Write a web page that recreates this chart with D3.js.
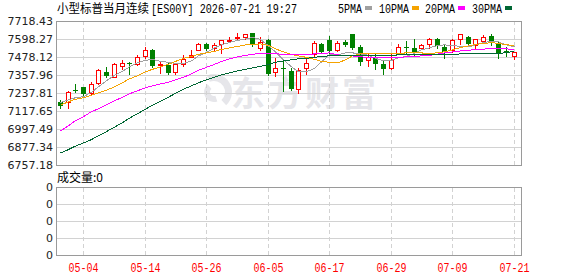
<!DOCTYPE html>
<html>
<head>
<meta charset="utf-8">
<script src="https://cdn.jsdelivr.net/npm/d3@7"></script>
<style>
  html, body { margin: 0; padding: 0; background: #fff; }
  svg { display: block; }
</style>
</head>
<body>
<div id="chart"></div>
<script>
const dates = [
  '04-29', '04-30', '05-01', '05-04', '05-05', '05-06', '05-07', '05-08', '05-11', '05-12',
  '05-13', '05-14', '05-15', '05-18', '05-19', '05-20', '05-21', '05-22', '05-25', '05-26',
  '05-27', '05-28', '05-29', '06-01', '06-02', '06-03', '06-04', '06-05', '06-08', '06-09',
  '06-10', '06-11', '06-12', '06-15', '06-16', '06-17', '06-18', '06-19', '06-22', '06-23',
  '06-24', '06-25', '06-26', '06-29', '06-30', '07-01', '07-02', '07-03', '07-06', '07-07',
  '07-08', '07-09', '07-10', '07-13', '07-14', '07-15', '07-16', '07-17', '07-20', '07-21'
];

const open = [
  7176.3, 7176.3, 7256.1, 7276.1, 7239.5, 7302.7, 7379.2, 7342.6, 7415.8, 7441.0,
  7430.4, 7484.2, 7527.5, 7423.7, 7423.7, 7381.2, 7430.4, 7479.0, 7527.5, 7567.4,
  7537.2, 7563.4, 7583.4, 7603.4, 7614.0, 7636.6, 7540.8, 7592.0, 7381.2, 7407.8,
  7385.8, 7264.1, 7403.8, 7496.9, 7563.4, 7590.0, 7523.5, 7578.7, 7630.0, 7545.5,
  7457.0, 7479.0, 7434.4, 7407.8, 7500.9, 7547.7, 7537.2, 7540.8, 7567.4, 7596.7,
  7545.5, 7523.5, 7596.7, 7612.0, 7558.8, 7585.4, 7618.7, 7574.1, 7515.5, 7485.6
];
const close = [
  7149.7, 7246.1, 7252.8, 7232.8, 7299.4, 7389.2, 7352.6, 7429.1, 7439.0, 7430.4,
  7479.0, 7523.5, 7419.1, 7430.4, 7370.5, 7430.4, 7467.6, 7490.3, 7567.4, 7534.5,
  7560.8, 7590.0, 7590.0, 7614.0, 7630.0, 7558.8, 7580.7, 7363.9, 7403.8, 7401.1,
  7264.1, 7392.5, 7437.0, 7570.1, 7514.2, 7518.9, 7574.1, 7558.8, 7540.8, 7447.7,
  7479.0, 7434.4, 7397.1, 7459.0, 7545.5, 7537.2, 7514.2, 7558.8, 7596.7, 7552.2,
  7514.2, 7590.0, 7630.0, 7567.4, 7596.7, 7612.0, 7580.7, 7496.9, 7513.5, 7514.2
];
const high = [
  7192.9, 7252.8, 7296.0, 7279.4, 7308.0, 7397.1, 7412.5, 7437.0, 7459.0, 7445.7,
  7490.3, 7547.7, 7532.2, 7452.4, 7441.0, 7441.0, 7490.3, 7523.5, 7572.1, 7572.1,
  7572.1, 7592.0, 7614.0, 7636.6, 7634.0, 7638.6, 7612.0, 7595.4, 7474.3, 7459.0,
  7403.8, 7407.8, 7463.7, 7585.4, 7570.1, 7618.7, 7585.4, 7590.0, 7630.0, 7558.8,
  7496.9, 7496.9, 7452.4, 7496.9, 7567.4, 7585.4, 7596.7, 7567.4, 7607.3, 7607.3,
  7563.4, 7596.7, 7634.0, 7620.6, 7596.7, 7625.3, 7630.0, 7580.7, 7545.5, 7514.2
];
const low = [
  7139.7, 7139.7, 7246.1, 7226.2, 7230.8, 7297.4, 7345.9, 7341.3, 7397.1, 7367.9,
  7423.7, 7474.3, 7414.5, 7370.5, 7363.9, 7363.9, 7419.1, 7479.0, 7523.5, 7523.5,
  7527.5, 7507.6, 7580.7, 7592.0, 7596.7, 7554.1, 7525.5, 7359.2, 7352.6, 7252.8,
  7259.4, 7234.8, 7367.9, 7485.6, 7507.6, 7496.9, 7518.9, 7550.1, 7530.2, 7423.7,
  7419.1, 7397.1, 7363.9, 7401.1, 7496.9, 7496.9, 7485.6, 7530.2, 7540.8, 7540.8,
  7474.3, 7514.2, 7563.4, 7558.8, 7530.2, 7574.1, 7558.8, 7474.3, 7485.6, 7463.7
];

const ma5 = [
  7173.0, 7192.9, 7206.2, 7212.9, 7242.8, 7279.4, 7319.3, 7355.9, 7382.5, 7412.5,
  7439.0, 7455.7, 7462.3, 7449.0, 7442.4, 7435.7, 7435.7, 7452.4, 7485.6, 7508.9,
  7538.8, 7558.8, 7575.4, 7588.7, 7598.7, 7608.7, 7595.4, 7552.2, 7512.2, 7459.0,
  7412.5, 7379.2, 7379.2, 7402.5, 7445.7, 7492.4, 7492.4, 7505.6, 7505.6, 7498.9,
  7489.0, 7469.0, 7452.4, 7455.7, 7472.3, 7482.3, 7502.3, 7525.5, 7538.8, 7555.5,
  7558.8, 7555.5, 7548.8, 7545.5, 7558.8, 7575.4, 7582.0, 7578.7, 7558.8, 7545.5
];
const ma10 = [
  7156.3, 7179.6, 7196.3, 7206.2, 7222.9, 7239.5, 7256.1, 7279.4, 7306.0, 7332.6,
  7352.6, 7379.2, 7395.8, 7412.5, 7429.1, 7449.0, 7469.0, 7482.3, 7496.9, 7505.6,
  7515.5, 7528.8, 7538.8, 7548.8, 7558.8, 7562.1, 7565.4, 7555.5, 7532.2, 7512.2,
  7495.6, 7485.6, 7475.6, 7462.3, 7449.0, 7442.4, 7439.0, 7459.0, 7485.6, 7498.9,
  7502.3, 7503.6, 7502.3, 7500.9, 7502.3, 7505.6, 7507.6, 7505.6, 7498.9, 7507.6,
  7512.2, 7525.5, 7542.1, 7552.2, 7562.1, 7568.8, 7574.1, 7568.8, 7558.8, 7556.8
];
const ma20 = [
  6983.4, 7019.9, 7053.2, 7079.8, 7113.1, 7133.1, 7159.7, 7186.3, 7209.6, 7232.8,
  7252.8, 7272.7, 7286.0, 7299.4, 7309.3, 7326.0, 7342.6, 7365.9, 7389.2, 7409.1,
  7429.1, 7449.0, 7465.7, 7479.0, 7489.0, 7495.6, 7502.3, 7502.3, 7498.9, 7496.9,
  7496.9, 7495.6, 7492.3, 7498.9, 7502.3, 7505.6, 7492.3, 7485.6, 7485.6, 7479.0,
  7475.6, 7474.3, 7474.3, 7474.3, 7475.6, 7479.0, 7482.3, 7485.6, 7489.0, 7496.9,
  7505.6, 7512.2, 7518.9, 7522.2, 7528.8, 7530.2, 7535.5, 7535.5, 7532.2, 7528.8
];
const ma30 = [
  6837.0, 6860.3, 6883.6, 6904.9, 6926.8, 6953.4, 6980.1, 7009.9, 7039.9, 7069.9,
  7099.8, 7129.7, 7156.3, 7182.9, 7209.6, 7236.2, 7262.8, 7286.0, 7306.0, 7326.0,
  7342.6, 7359.2, 7372.6, 7385.8, 7395.8, 7405.8, 7415.8, 7429.1, 7442.4, 7452.4,
  7459.0, 7465.7, 7469.0, 7475.6, 7482.3, 7485.6, 7489.0, 7489.0, 7489.6, 7489.6,
  7490.3, 7490.3, 7490.9, 7490.9, 7491.6, 7492.3, 7492.3, 7493.6, 7494.9, 7495.6,
  7495.6, 7496.9, 7498.3, 7498.9, 7500.2, 7502.3, 7503.6, 7503.6, 7505.6, 7518.9
];

const yTicks = [7718.43, 7598.27, 7478.12, 7357.96, 7237.81, 7117.65, 6997.49, 6877.34, 6757.18];
const yTickLabels = ['7718.43', '7598.27', '7478.12', '7357.96', '7237.81', '7117.65', '6997.49', '6877.34', '6757.18'];
const xTickLabels = ['05-04', '05-14', '05-26', '06-05', '06-17', '06-29', '07-09', '07-21'];
const volTicks = [0, 1, 2, 3, 4];
const volTickLabels = ['0', '0', '0', '0', '0'];
const latestVolume = 0;

const titleName = '小型标普当月连续';
const titleCode = '[ES00Y] 2026-07-21 19:27';
const maNames = ['5PMA', '10PMA', '20PMA', '30PMA'];

const W = 578;
const H = 276;
const plot = {left: 56, right: 521, top: 21, bottom: 165};
const vol = {top: 187, bottom: 255};

const gridColor = '#d2d2d2';
const borderColor = '#9a9a9a';
const textColor = '#222';
const upColor = '#ff0000';
const downColor = '#008000';
const maColors = ['#a0a0a0', '#f5a300', '#ff00ff', '#006633'];
const watermarkColor = '#e6e6ea';

const svg = d3.select('#chart')
  .append('svg')
  .attr('width', W)
  .attr('height', H);

const x = d3.scalePoint().domain(dates).range([60, 513.7]);
const y = d3.scaleLinear().domain([6757.18, 7718.43]).range([plot.bottom, plot.top]);
const yVol = d3.scaleLinear().domain([0, 4]).range([vol.top, vol.bottom]);
const col = d => Math.round(x(d));

// watermark
const wm = svg.append('g').attr('fill', watermarkColor);
const logoArc = d3.arc();
wm.append('path')
  .attr('transform', 'translate(214, 92)')
  .attr('d', logoArc({innerRadius: 11, outerRadius: 18, startAngle: -0.4, endAngle: 2.4}));
wm.append('path')
  .attr('transform', 'translate(214, 92)')
  .attr('d', logoArc({innerRadius: 4, outerRadius: 10, startAngle: 2.8, endAngle: 5.6}));
wm.append('text')
  .attr('x', 231)
  .attr('y', 106)
  .style('font-family', '"Noto Sans CJK SC"')
  .style('font-weight', 'bold')
  .style('font-size', '34px')
  .style('letter-spacing', '3px')
  .text('东方财富');

// grids
function hGrid(scale, ticks) {
  const g = svg.append('g')
    .attr('transform', `translate(${plot.left}, 0)`)
    .call(d3.axisLeft(scale).tickValues(ticks).tickSize(-(plot.right - plot.left)).tickFormat(''));
  g.select('.domain').remove();
  g.selectAll('line').attr('stroke', gridColor).attr('shape-rendering', 'crispEdges');
}

function vGrid(top, bottom) {
  const g = svg.append('g')
    .attr('transform', `translate(0, ${bottom})`)
    .call(d3.axisBottom(x).tickValues(xTickLabels).tickSize(-(bottom - top)).tickFormat(''));
  g.select('.domain').remove();
  g.selectAll('.tick').attr('transform', d => `translate(${col(d) + 0.5}, 0)`);
  g.selectAll('line')
    .attr('stroke', gridColor)
    .attr('stroke-dasharray', '4,3')
    .attr('shape-rendering', 'crispEdges');
}

hGrid(y, yTicks);
hGrid(yVol, volTicks);
vGrid(plot.top, plot.bottom);
vGrid(vol.top, vol.bottom);

// frames
[[plot.top, plot.bottom], [vol.top, vol.bottom]].forEach(([t, b]) => {
  svg.append('rect')
    .attr('x', plot.left + 0.5)
    .attr('y', t + 0.5)
    .attr('width', plot.right - plot.left)
    .attr('height', b - t)
    .attr('fill', 'none')
    .attr('stroke', borderColor)
    .attr('shape-rendering', 'crispEdges');
});

// y axis labels
function yLabels(scale, ticks, labels) {
  const g = svg.append('g')
    .attr('transform', `translate(${plot.left}, 0)`)
    .call(d3.axisLeft(scale).tickValues(ticks).tickSize(0).tickPadding(3)
      .tickFormat((d, i) => labels[i]));
  g.select('.domain').remove();
  g.selectAll('text')
    .attr('fill', textColor)
    .style('font-family', '"DejaVu Sans"')
    .style('font-size', '11px');
}
yLabels(y, yTicks, yTickLabels);
yLabels(yVol, volTicks, volTickLabels);

// x axis labels
const xAxis = svg.append('g')
  .attr('transform', `translate(0, ${vol.bottom})`)
  .call(d3.axisBottom(x).tickValues(xTickLabels).tickSize(0).tickPadding(8));
xAxis.select('.domain').remove();
xAxis.selectAll('.tick').attr('transform', d => `translate(${col(d) + 0.5}, 0)`);
xAxis.selectAll('text')
  .attr('fill', upColor)
  .attr('textLength', 30)
  .attr('lengthAdjust', 'spacingAndGlyphs')
  .style('font-family', '"Liberation Mono"')
  .style('font-size', '12px');

// candles
const candles = svg.append('g').attr('shape-rendering', 'crispEdges');
dates.forEach((d, i) => {
  const c = col(d);
  const up = close[i] >= open[i];
  const color = up ? upColor : downColor;
  candles.append('line')
    .attr('x1', c + 0.5).attr('x2', c + 0.5)
    .attr('y1', Math.round(y(high[i]))).attr('y2', Math.round(y(low[i])) + 1)
    .attr('stroke', color);
  const yTop = Math.round(y(Math.max(open[i], close[i])));
  const yBot = Math.round(y(Math.min(open[i], close[i])));
  if (up) {
    candles.append('rect')
      .attr('x', c - 1.5).attr('y', yTop + 0.5)
      .attr('width', 4).attr('height', Math.max(0, yBot - yTop))
      .attr('fill', '#fff')
      .attr('stroke', color);
  } else {
    candles.append('rect')
      .attr('x', c - 2).attr('y', yTop)
      .attr('width', 5).attr('height', Math.max(1, yBot - yTop))
      .attr('fill', color);
  }
});

// moving averages
const line = d3.line()
  .x((v, i) => col(dates[i]) + 0.5)
  .y(v => y(v));
[ma5, ma10, ma20, ma30].forEach((series, k) => {
  svg.append('path')
    .datum(series)
    .attr('fill', 'none')
    .attr('stroke', maColors[k])
    .attr('stroke-width', 1)
    .attr('shape-rendering', 'crispEdges')
    .attr('d', line);
});

// title
svg.append('text')
  .attr('x', 57).attr('y', 13)
  .attr('fill', '#000')
  .attr('textLength', 92)
  .attr('lengthAdjust', 'spacingAndGlyphs')
  .style('font-family', '"Noto Sans CJK SC"')
  .style('font-size', '12px')
  .text(titleName);
svg.append('text')
  .attr('x', 151).attr('y', 13)
  .attr('fill', '#000')
  .attr('textLength', 146)
  .attr('lengthAdjust', 'spacingAndGlyphs')
  .style('font-family', '"Liberation Mono"')
  .style('font-size', '12px')
  .text(titleCode);

// legend
const legendX = [338, 379, 425, 472];
maNames.forEach((name, k) => {
  const w = name.length * 6;
  svg.append('text')
    .attr('x', legendX[k]).attr('y', 13)
    .attr('fill', '#000')
    .attr('textLength', w)
    .attr('lengthAdjust', 'spacingAndGlyphs')
    .style('font-family', '"Liberation Mono"')
    .style('font-size', '12px')
    .text(name);
  svg.append('rect')
    .attr('x', legendX[k] + w + 3).attr('y', 6)
    .attr('width', 7).attr('height', 4)
    .attr('fill', maColors[k]);
});

// volume caption
svg.append('text')
  .attr('x', 57).attr('y', 182)
  .attr('fill', '#000')
  .style('font-family', '"Noto Sans CJK SC"')
  .style('font-size', '12px')
  .text('成交量:' + latestVolume);
</script>
</body>
</html>
